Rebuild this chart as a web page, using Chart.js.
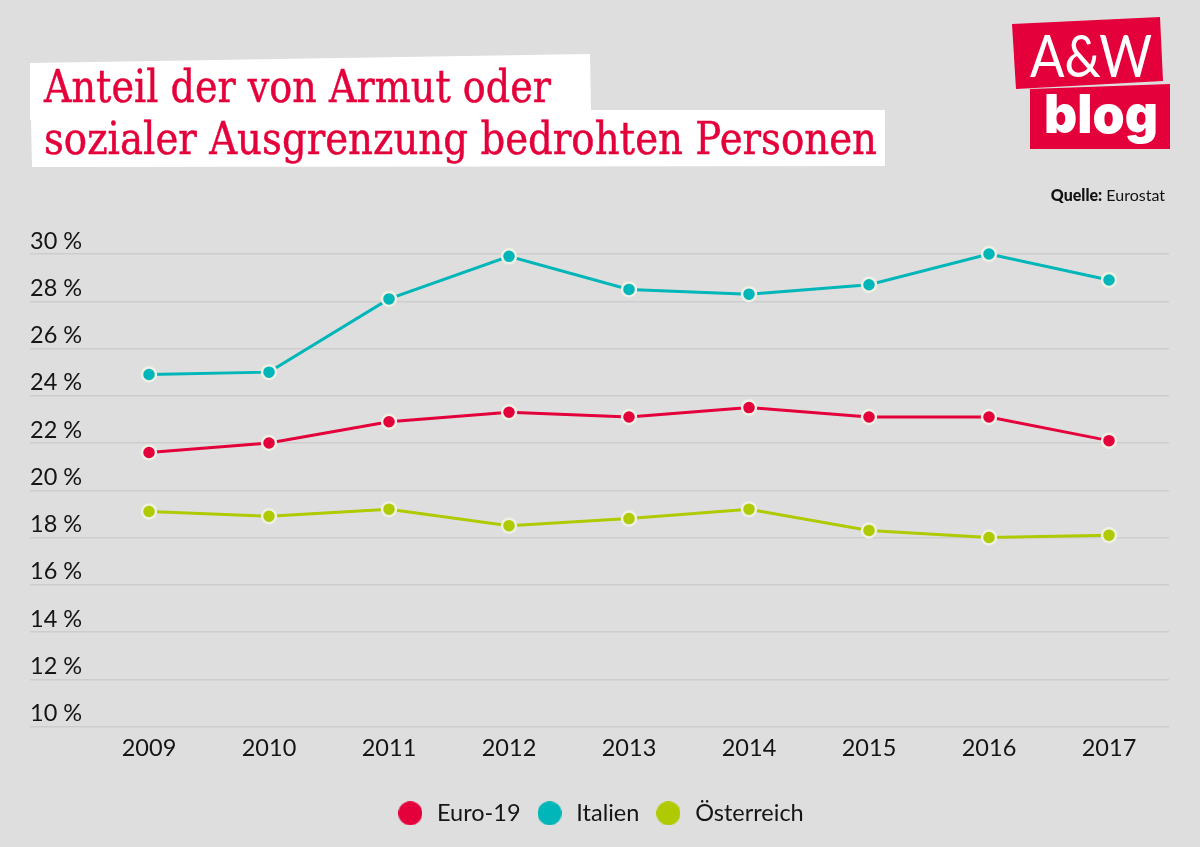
<!DOCTYPE html>
<html lang="de"><head><meta charset="utf-8">
<script src="https://cdn.jsdelivr.net/npm/chart.js@4"></script>
<style>
html,body{margin:0;padding:0;background:#dedede;width:1200px;height:847px;overflow:hidden}
canvas{position:absolute;left:0;top:0}
.abs{position:absolute;white-space:nowrap;transform-origin:0 0}
#p1{left:0;top:0;width:1200px;height:200px;background:#fff;clip-path:polygon(30px 63px,590px 54px,591px 110px,885px 110px,885px 166px,32px 167px,31px 120px,30px 120px)}
.t{font-family:"DejaVu Serif",serif;font-size:44px;line-height:50px;color:#e4003a;left:44px;-webkit-text-stroke:.5px #e4003a}
#l1{left:1012px;top:17px;width:151px;height:72px;background:#e4003a;clip-path:polygon(0 7px,148px 0,151px 64px,4px 72px)}
#l2{left:1030px;top:84px;width:140px;height:65px;background:#e4003a;clip-path:polygon(0 5px,140px 0,140px 65px,0 65px)}
#aw{left:1030px;top:23px;font:400 58px/64px Lato,sans-serif;color:#fff}
#blog{left:1044px;top:82px;font:900 53px/64px Inter,sans-serif;color:#fff}
#src{right:35px;top:185px;font:16px/20px Lato,sans-serif;color:#111}
#src b{font-weight:900}
</style></head><body>
<canvas id="c" width="1200" height="847"></canvas>
<div id="p1" class="abs"></div>
<div id="t1" class="abs t" style="top:62px">Anteil der von Armut oder</div>
<div id="t2" class="abs t" style="top:114px">sozialer Ausgrenzung bedrohten Personen</div>
<div id="l1" class="abs"></div><div id="l2" class="abs"></div>
<div id="aw" class="abs">A&amp;W</div><div id="blog" class="abs">blog</div>
<div id="src" class="abs"><b>Quelle:</b> Eurostat</div>
<script>
const years = ['2009','2010','2011','2012','2013','2014','2015','2016','2017'];
const euro19 = [21.6,22.0,22.9,23.3,23.1,23.5,23.1,23.1,22.1];
const italien = [24.9,25.0,28.1,29.9,28.5,28.3,28.7,30.0,28.9];
const oesterreich = [19.1,18.9,19.2,18.5,18.8,19.2,18.3,18.0,18.1];
const RED='#e4003a',TEAL='#00b6b8',GREEN='#afca00',RING='#eef0e4',GRID='#cdcdcd',INK='#151515';
const FONT='Lato, sans-serif';
function ds(label,data,color){return {label,data,borderColor:color,backgroundColor:color,borderWidth:3,
  pointRadius:7,pointHoverRadius:7,pointBackgroundColor:color,pointBorderColor:RING,pointBorderWidth:2.5,tension:0,clip:false};}
function dot(color){const k=document.createElement('canvas');k.width=24;k.height=24;const g=k.getContext('2d');g.fillStyle=color;g.beginPath();g.arc(12,12,12,0,Math.PI*2);g.fill();return k;}
Chart.defaults.devicePixelRatio=1;
const cv=document.getElementById('c');
cv.getContext('2d').letterSpacing='-0.5px';
new Chart(cv,{type:'line',
 data:{labels:years,datasets:[ds('Euro-19',euro19,RED),ds('Italien',italien,TEAL),ds('Österreich',oesterreich,GREEN)]},
 options:{responsive:false,animation:false,
  layout:{padding:{left:30,right:31,top:254,bottom:12}},
  plugins:{tooltip:{enabled:false},title:{display:false},
   legend:{position:'bottom',labels:{usePointStyle:true,boxWidth:24,boxHeight:24,pointStyleWidth:30,padding:14,color:INK,font:{family:FONT,size:23.5},
     generateLabels(ch){return ch.data.datasets.map((d,i)=>({text:d.label,fontColor:INK,datasetIndex:i,pointStyle:dot(d.borderColor),lineWidth:0,strokeStyle:'transparent',fillStyle:d.borderColor}));}}}},
  scales:{
   x:{offset:true,grid:{display:false},border:{display:false},afterFit(s){s.height=61;},
      ticks:{color:INK,font:{family:FONT,size:23.5},padding:0,maxRotation:0,autoSkip:false}},
   y:{min:10,max:30,afterFit(s){s.width=59;},
      grid:{color:GRID,lineWidth:1.5,tickLength:59,tickColor:GRID},border:{display:false},
      ticks:{stepSize:2,autoSkip:false,crossAlign:'far',color:INK,padding:0,font:{family:FONT,size:23.5,lineHeight:'26px'},callback:v=>[v+' %','']}}
  }}});
function fit(id,w){const e=document.getElementById(id);const r=e.getBoundingClientRect().width;e.style.transform='scaleX('+(w/r)+')';}
fit('t1',507);fit('t2',833);fit('aw',122);fit('blog',114);
</script>
</body></html>
